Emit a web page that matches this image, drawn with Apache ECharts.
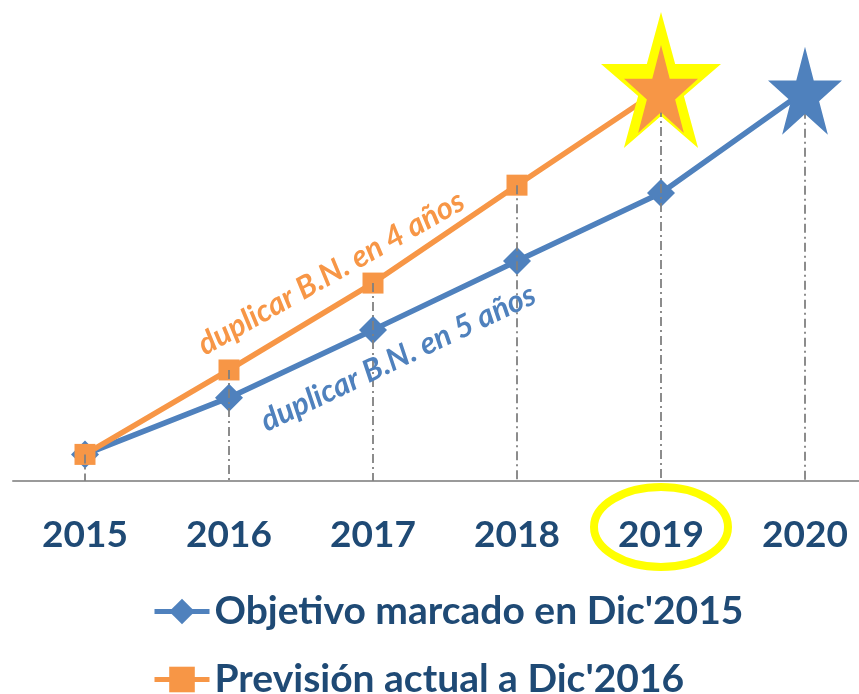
<!DOCTYPE html>
<html>
<head>
<meta charset="utf-8">
<script src="https://cdn.jsdelivr.net/npm/echarts@6/dist/echarts.min.js"></script>
<style>
  html, body { margin: 0; padding: 0; background: #fff; }
  #chart { width: 859px; height: 694px; }
</style>
</head>
<body>
<div id="chart"></div>
<script>
// datos (indice: beneficio neto 2015 = 100)
const years = ["2015", "2016", "2017", "2018", "2019", "2020"];
const objetivo = [100, 116, 135.1, 154.5, 173.7, 202.5];
const prevision = [100, 123.8, 148.3, 175.9, 203, null];
const seriesNames = ["Objetivo marcado en Dic'2015", "Previsión actual a Dic'2016"];
const notas = ["duplicar B.N. en 4 años", "duplicar B.N. en 5 años"];

const BLUE = "#4F81BD";
const ORANGE = "#F79646";
const NAVY = "#1F4A75";
const FONT = "Lato, 'Open Sans', sans-serif";
const STAR = "path://M0,-100 L22.45,-30.9 L95.1,-30.9 L36.3,11.8 L58.8,80.9 L0,38.2 L-58.8,80.9 L-36.3,11.8 L-95.1,-30.9 L-22.45,-30.9 Z";
const Y_MIN = 92.5;

// ultimo punto de cada serie -> estrella
const lastObj = objetivo.length - 1;
const lastPrev = prevision.findIndex(v => v === null) - 1;

const objData = objetivo.map((v, i) => i === lastObj ? { value: v, symbol: "none" } : v);
const prevData = prevision.map((v, i) => i === lastPrev ? { value: v, symbol: "none" } : v);

// lineas verticales punteadas desde el punto mas alto hasta el eje
const dropLines = years.map((y, i) => {
  const top = Math.max(objetivo[i] || 0, prevision[i] || 0);
  return [{ coord: [y, top] }, { coord: [y, Y_MIN] }];
});

const legendText = {
  color: NAVY,
  fontFamily: FONT,
  fontWeight: "bold",
  fontSize: 39,
  lineHeight: 36
};

const chart = echarts.init(document.getElementById("chart"));

const option = {
  animation: false,
  grid: { left: 13, width: 864, top: 11, height: 470, outerBoundsMode: "none" },
  xAxis: {
    type: "category",
    data: years,
    boundaryGap: true,
    axisLine: { show: true, lineStyle: { color: "#9a9a9a", width: 2 } },
    axisTick: { show: false },
    axisLabel: {
      color: NAVY,
      fontFamily: FONT,
      fontWeight: "bold",
      fontSize: 37,
      margin: 36
    },
    splitLine: { show: false }
  },
  yAxis: {
    type: "value",
    min: Y_MIN,
    max: 225,
    show: false,
    splitLine: { show: false }
  },
  // una leyenda por fila
  legend: [
    {
      data: [seriesNames[0]],
      left: 152,
      top: 592,
      padding: 0,
      itemWidth: 55,
      itemHeight: 32,
      itemGap: 6,
      lineStyle: { width: 5 },
      textStyle: legendText
    },
    {
      data: [seriesNames[1]],
      left: 152,
      top: 660,
      padding: 0,
      itemWidth: 55,
      itemHeight: 32,
      itemGap: 6,
      lineStyle: { width: 5 },
      textStyle: legendText
    }
  ],
  series: [
    {
      name: seriesNames[0],
      type: "line",
      z: 2,
      data: objData,
      symbol: "diamond",
      symbolSize: 28,
      itemStyle: { color: BLUE },
      lineStyle: { color: BLUE, width: 5.5 }
    },
    {
      name: seriesNames[1],
      type: "line",
      z: 2,
      data: prevData,
      symbol: "rect",
      symbolSize: 21,
      itemStyle: { color: ORANGE },
      lineStyle: { color: ORANGE, width: 5.5 }
    },
    {
      // guias verticales
      name: "guias",
      type: "line",
      z: 3,
      data: [],
      markLine: {
        silent: true,
        symbol: "none",
        label: { show: false },
        lineStyle: { color: "#808080", width: 1.8, type: [9, 4, 2, 4] },
        data: dropLines
      }
    },
    {
      // estrella amarilla detras de la estrella naranja
      name: "brillo",
      type: "scatter",
      z: 4,
      symbol: STAR,
      symbolSize: [120, 136],
      symbolOffset: [0, -9],
      itemStyle: { color: "#FFFF00", opacity: 1 },
      data: [[years[lastPrev], prevision[lastPrev]]]
    },
    {
      name: "estrellas",
      type: "scatter",
      z: 5,
      symbol: STAR,
      symbolSize: [74, 88],
      itemStyle: { opacity: 1 },
      data: [
        { value: [years[lastObj], objetivo[lastObj]], itemStyle: { color: BLUE } },
        { value: [years[lastPrev], prevision[lastPrev]], itemStyle: { color: ORANGE } }
      ]
    }
  ],
  graphic: [
    {
      id: "nota4",
      type: "text",
      x: 331, y: 273,
      rotation: 29.5 * Math.PI / 180,
      z: 10,
      style: {
        text: notas[0],
        fill: ORANGE,
        font: "italic bold 31px " + FONT,
        align: "center", verticalAlign: "middle",
        textAlign: "center", textVerticalAlign: "middle"
      }
    },
    {
      id: "nota5",
      type: "text",
      x: 398, y: 358,
      rotation: 25.6 * Math.PI / 180,
      z: 10,
      style: {
        text: notas[1],
        fill: BLUE,
        font: "italic bold 31px " + FONT,
        align: "center", verticalAlign: "middle",
        textAlign: "center", textVerticalAlign: "middle"
      }
    }
  ]
};

chart.setOption(option);

// elipse amarilla alrededor de la etiqueta 2019
const x2019 = chart.convertToPixel({ xAxisIndex: 0 }, years[4]);
chart.setOption({
  graphic: [
    {
      id: "elipse",
      type: "ellipse",
      z: 10,
      shape: { cx: x2019, cy: 527, rx: 67, ry: 40 },
      style: { fill: null, stroke: "#FFFF00", lineWidth: 8 }
    }
  ]
});
</script>
</body>
</html>
